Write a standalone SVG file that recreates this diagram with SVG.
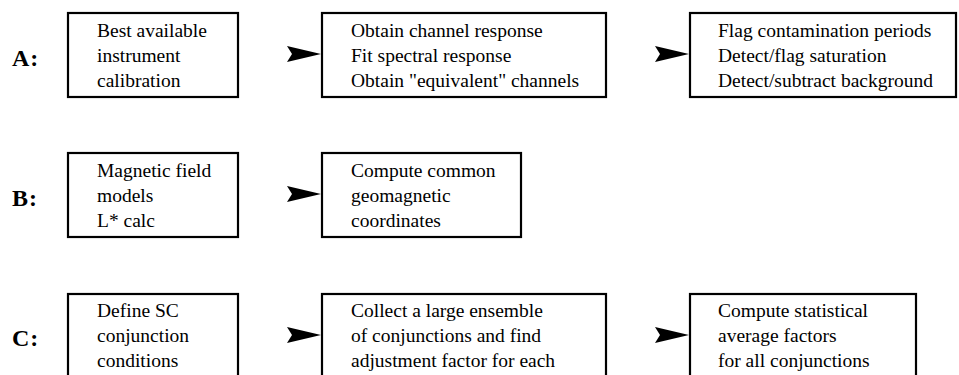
<svg xmlns="http://www.w3.org/2000/svg" width="959" height="375" viewBox="0 0 959 375">
<style>
.box{fill:#fff;stroke:#000;stroke-width:2.2}
.t{font-family:"Liberation Serif","Times New Roman",serif;font-size:19.5px;fill:#000}
.lab{font-family:"Liberation Serif","Times New Roman",serif;font-size:24px;font-weight:bold;fill:#000;letter-spacing:1px}
.ah{fill:#000}
</style>
<defs>
<path id="arr" d="M0,0 L-34,-8 L-29,0 L-34,8 Z"/>
</defs>
<rect width="959" height="375" fill="#fff"/>
<text class="lab" x="12" y="66">A:</text>
<text class="lab" x="12" y="206">B:</text>
<text class="lab" x="12" y="346">C:</text>
<g id="A1"><rect class="box" x="68" y="13" width="170" height="84"/>
<text class="t" x="97" y="37">Best available</text><text class="t" x="97" y="62">instrument</text><text class="t" x="97" y="87">calibration</text></g>
<g id="A2"><rect class="box" x="322" y="13" width="284" height="84"/>
<text class="t" x="351" y="37">Obtain channel response</text><text class="t" x="351" y="62">Fit spectral response</text><text class="t" x="351" y="87">Obtain "equivalent" channels</text></g>
<g id="A3"><rect class="box" x="690" y="13" width="266" height="84"/>
<text class="t" x="718" y="37">Flag contamination periods</text><text class="t" x="718" y="62">Detect/flag saturation</text><text class="t" x="718" y="87">Detect/subtract background</text></g>
<g id="B1"><rect class="box" x="68" y="153" width="170" height="84"/>
<text class="t" x="97" y="177">Magnetic field</text><text class="t" x="97" y="202">models</text><text class="t" x="97" y="227">L* calc</text></g>
<g id="B2"><rect class="box" x="322" y="153" width="199" height="84"/>
<text class="t" x="351" y="177">Compute common</text><text class="t" x="351" y="202">geomagnetic</text><text class="t" x="351" y="227">coordinates</text></g>
<g id="C1"><rect class="box" x="68" y="294" width="170" height="90"/>
<text class="t" x="97" y="317">Define SC</text><text class="t" x="97" y="342">conjunction</text><text class="t" x="97" y="367">conditions</text></g>
<g id="C2"><rect class="box" x="322" y="294" width="284" height="90"/>
<text class="t" x="351" y="317">Collect a large ensemble</text><text class="t" x="351" y="342">of conjunctions and find</text><text class="t" x="351" y="367">adjustment factor for each</text></g>
<g id="C3"><rect class="box" x="690" y="294" width="226" height="90"/>
<text class="t" x="718" y="317">Compute statistical</text><text class="t" x="718" y="342">average factors</text><text class="t" x="718" y="367">for all conjunctions</text></g>
<g id="connectors">
<use href="#arr" class="ah" x="321" y="54"/>
<use href="#arr" class="ah" x="689" y="54"/>
<use href="#arr" class="ah" x="321" y="194"/>
<use href="#arr" class="ah" x="321" y="335"/>
<use href="#arr" class="ah" x="689" y="335"/>
</g>
</svg>
